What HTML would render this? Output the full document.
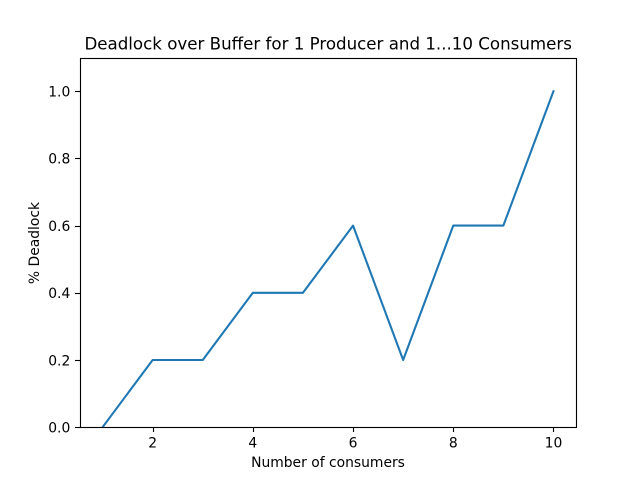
<!DOCTYPE html>
<html>
<head>
<meta charset="utf-8">
<style>
html,body{margin:0;padding:0;background:#fff;}
svg{display:block;}
text{font-family:"DejaVu Sans",sans-serif;fill:#000;}
</style>
</head>
<body>
<svg id="chart" xmlns="http://www.w3.org/2000/svg" width="640" height="480" viewBox="0 0 640 480">
<rect x="0" y="0" width="640" height="480" fill="#fff"/>
<g id="marks"></g>
<text x="328.2" y="49.3" font-size="16.67" text-anchor="middle">Deadlock over Buffer for 1 Producer and 1...10 Consumers</text>
<text x="328" y="467" font-size="13.89" text-anchor="middle">Number of consumers</text>
<text x="0" y="0" font-size="13.89" text-anchor="middle" transform="translate(39,243) rotate(-90)">% Deadlock</text>
</svg>
<script>
const consumers = [1, 2, 3, 4, 5, 6, 7, 8, 9, 10];
const deadlock = [0, 0.2, 0.2, 0.4, 0.4, 0.6, 0.2, 0.6, 0.6, 1.0];
const xTicks = [2, 4, 6, 8, 10];
const yTicks = [0, 0.2, 0.4, 0.6, 0.8, 1.0];
const yDomain = [0, 1.1];

const NS = 'http://www.w3.org/2000/svg';
const plotLeft = 80, plotRight = 576, plotTop = 57.6, plotBottom = 427.2;
const marks = document.getElementById('marks');

const xMinData = Math.min.apply(null, consumers);
const xMaxData = Math.max.apply(null, consumers);
const xPad = (xMaxData - xMinData) * 0.05;
const xLo = xMinData - xPad;
const xHi = xMaxData + xPad;

function xScale(v) {
  return plotLeft + (v - xLo) / (xHi - xLo) * (plotRight - plotLeft);
}
function yScale(v) {
  return plotBottom - (v - yDomain[0]) / (yDomain[1] - yDomain[0]) * (plotBottom - plotTop);
}
function snap(v) {
  return Math.round(v) + 0.5;
}
function make(tag, attrs, parent) {
  const el = document.createElementNS(NS, tag);
  Object.keys(attrs).forEach(function (k) { el.setAttribute(k, attrs[k]); });
  parent.appendChild(el);
  return el;
}

// Series line, clipped to the plot area
const defs = make('defs', {}, marks);
const clip = make('clipPath', { id: 'plot-clip' }, defs);
make('rect', { x: plotLeft, y: plotTop, width: plotRight - plotLeft, height: plotBottom - plotTop }, clip);

const line = make('polyline', {
  points: consumers.map(function (c, i) { return xScale(c) + ',' + yScale(deadlock[i]); }).join(' '),
  fill: 'none',
  stroke: '#1f77b4',
  'stroke-width': 2.08,
  'stroke-linecap': 'square',
  'stroke-linejoin': 'round',
  'clip-path': 'url(#plot-clip)'
}, marks);



// X ticks
xTicks.forEach(function (t) {
  const x = xScale(t);
  const sx = snap(x);
  const tick = make('line', { x1: sx, x2: sx, y1: snap(plotBottom), y2: snap(plotBottom) + 4.5, stroke: '#000', 'stroke-width': 1.11 }, marks);
  
  
  const label = make('text', { x: x, y: 447.6, 'font-size': 13.89, 'text-anchor': 'middle' }, marks);
  
  
  label.textContent = String(t);
});

// Y ticks
yTicks.forEach(function (t) {
  const y = yScale(t);
  const sy = snap(y);
  const tick = make('line', { x1: snap(plotLeft) - 5.5, x2: snap(plotLeft), y1: sy, y2: sy, stroke: '#000', 'stroke-width': 1.11 }, marks);
  
  
  const label = make('text', { x: 70.3, y: y + 5.3, 'font-size': 13.89, 'text-anchor': 'end' }, marks);
  
  
  label.textContent = t.toFixed(1);
});

// Plot frame, snapped to the pixel grid
const frame = make('rect', {
  x: snap(plotLeft),
  y: snap(plotTop),
  width: snap(plotRight) - snap(plotLeft),
  height: snap(plotBottom) - snap(plotTop),
  fill: 'none',
  stroke: '#000',
  'stroke-width': 1.11
}, marks);


</script>
</body>
</html>
